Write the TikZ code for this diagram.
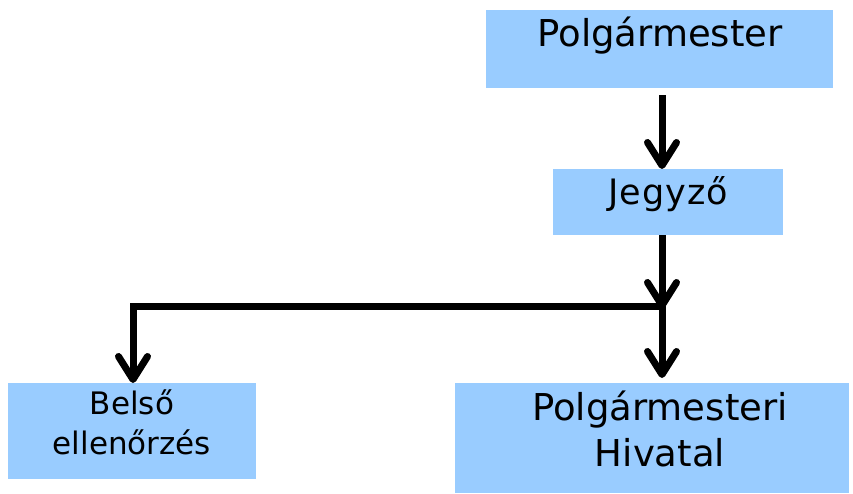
\documentclass[tikz,border=0pt]{standalone}
\usepackage{fontspec}
\setmainfont{DejaVu Sans}
\usetikzlibrary{arrows.meta,calc}
\definecolor{boxblue}{HTML}{99CCFF}
\tikzset{
  box/.style={fill=boxblue, draw=none, inner sep=0pt, anchor=north west},
  lbl/.style={inner sep=0pt, anchor=base, align=center, text=black},
  conn/.style={line width=7pt, -{Straight Barb[length=23pt,width=29pt,line width=7pt,round]}},
}
\begin{document}
\begin{tikzpicture}[x=1pt,y=-1pt]
\useasboundingbox (0,0) rectangle (853,494);
% boxes
\node[box, minimum width=347pt, minimum height=78pt] (pm) at (486,10) {};
\node[box, minimum width=230pt, minimum height=66pt] (jz) at (553,169) {};
\node[box, minimum width=248pt, minimum height=96pt] (be) at (8,383) {};
\node[box, minimum width=394pt, minimum height=110pt] (ph) at (455,383) {};
% texts
\node[lbl, font=\fontsize{37}{46}\selectfont] (tpm) at (660,47) {Polgármester};
\node[lbl, font=\fontsize{35}{40}\selectfont\addfontfeatures{LetterSpace=3}] (tjz) at (668,205) {Jegyző};
\node[lbl, font=\fontsize{31}{40}\selectfont] (tbe) at (132,454) {Belső\\ellenőrzés};
\node[lbl, font=\fontsize{37}{46}\selectfont] (tph) at (660,466) {Polgármesteri\\Hivatal};
% connectors
\coordinate (hub) at (662,306);
\coordinate (lc) at (133,306);
\draw[conn, shorten <=7pt] (pm.south -| hub) -- (jz.north -| hub);
\draw[conn] (jz.south -| hub) -- ([yshift=-3pt]hub);
\draw[conn] (hub) -- (lc) -- (be.north -| lc);
\draw[conn, shorten >=5pt] (hub) -- (ph.north -| hub);
\end{tikzpicture}
\end{document}
